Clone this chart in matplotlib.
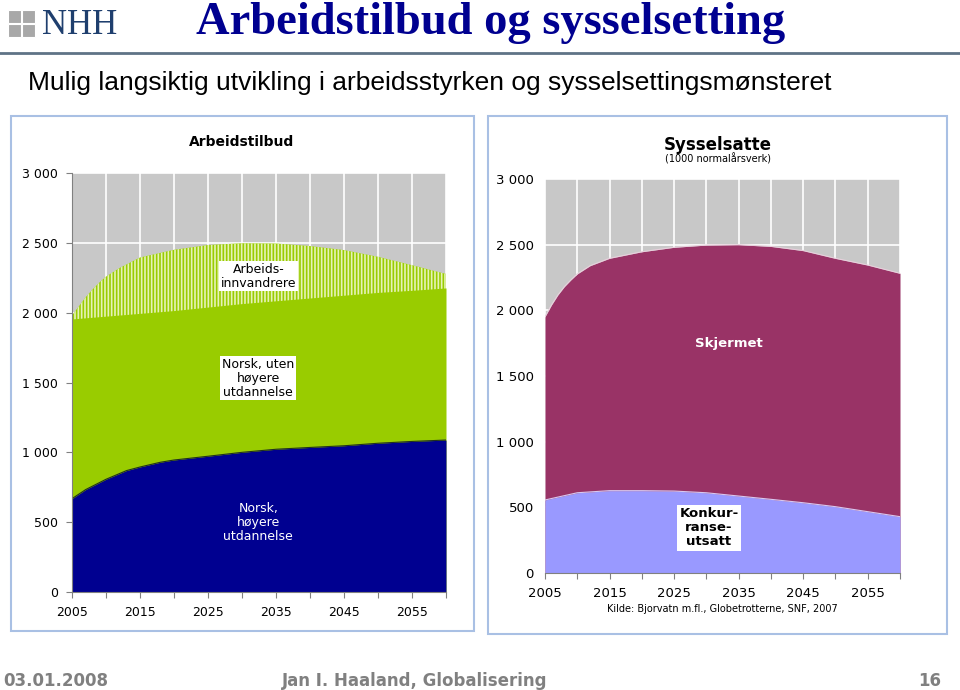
import numpy as np
import matplotlib
matplotlib.use("Agg")
import matplotlib.pyplot as plt
from matplotlib.patches import Rectangle
from matplotlib.ticker import FuncFormatter

# data (1000 persons / normalårsverk)
hoyere_years = [2005, 2007, 2010, 2013, 2015, 2018, 2020, 2025, 2030, 2035, 2040, 2045, 2050, 2055, 2060]
norsk_hoyere = [668, 733, 807, 869, 895, 929, 945, 972, 1000, 1022, 1035, 1047, 1065, 1078, 1088]

uten_years = [2005, 2010, 2015, 2020, 2025, 2030, 2035, 2040, 2045, 2050, 2055, 2060]
norsk_uten_cum = [1955, 1975, 1995, 2015, 2040, 2065, 2085, 2105, 2125, 2145, 2160, 2177]

innv_years = [2005, 2006, 2007, 2008, 2009, 2010, 2012, 2015, 2020, 2025, 2030, 2035,
              2040, 2045, 2050, 2055, 2060]
arbeidsinnv_cum = [1980, 2045, 2110, 2165, 2215, 2258, 2320, 2395, 2450, 2484, 2497, 2495,
                   2477, 2448, 2400, 2340, 2277]

konk_years = [2005, 2010, 2015, 2020, 2025, 2030, 2035, 2040, 2045, 2050, 2055, 2060]
konkurranse = [556, 611, 627, 627, 624, 611, 586, 561, 535, 505, 467, 429]

tot_years = [2005, 2006, 2007, 2008, 2009, 2010, 2012, 2015, 2020, 2025, 2030, 2035,
             2040, 2045, 2050, 2055, 2060]
sysselsatte_tot = [1951, 2040, 2117, 2180, 2231, 2277, 2340, 2396, 2446, 2480, 2497, 2500,
                   2487, 2455, 2396, 2345, 2282]

tick_years = list(range(2005, 2061, 5))
xtick_labels = ['2005', '', '2015', '', '2025', '', '2035', '', '2045', '', '2055', '']

W, H = 960, 690
fig = plt.figure(figsize=(9.6, 6.9), dpi=100)

def fig_box(x0, y0, x1, y1):
    # pixel box -> figure fraction [l, b, w, h]
    return [x0 / W, 1 - y1 / H, (x1 - x0) / W, (y1 - y0) / H]

def fx(x):
    return x / W

def fy(y):
    return 1 - y / H

fmt = FuncFormatter(lambda v, p: f"{int(v):,}".replace(",", " "))
gray_bg = '#C8C8C8'

def style_axes(ax, show_left):
    ax.set_facecolor(gray_bg)
    ax.set_xlim(2005, 2060)
    ax.set_ylim(0, 3000)
    ax.set_xticks(tick_years)
    ax.set_xticklabels(xtick_labels)
    ax.set_yticks(range(0, 3001, 500))
    ax.yaxis.set_major_formatter(fmt)
    ax.grid(True, color='white', lw=1.2)
    ax.set_axisbelow(True)
    for s in ['top', 'right']:
        ax.spines[s].set_visible(False)
    ax.spines['bottom'].set_color('#808080')
    ax.tick_params(axis='x', length=4, color='#808080', labelsize=9, pad=6)
    if show_left:
        ax.spines['left'].set_color('#808080')
        ax.tick_params(axis='y', length=4, color='#808080', labelsize=9, pad=6)
    else:
        ax.spines['left'].set_visible(False)
        ax.tick_params(axis='y', length=0, labelsize=9.5, pad=8)
        ax.tick_params(axis='x', labelsize=9.5)

# panel frames
for box in [(11, 116, 474, 631), (488, 116, 947, 634)]:
    x0, y0, x1, y1 = box
    fig.patches.append(Rectangle((fx(x0), fy(y1)), fx(x1 - x0), (y1 - y0) / H,
                                 transform=fig.transFigure, fill=False,
                                 edgecolor='#A9C0E4', lw=1.5))

# left chart: Arbeidstilbud
ax1 = fig.add_axes(fig_box(72, 173, 446, 592))
style_axes(ax1, True)
plt.rcParams['hatch.linewidth'] = 1.2
ax1.fill_between(innv_years, 0, arbeidsinnv_cum, facecolor='#99CC00',
                 edgecolor='#E6F2B8', hatch='|||||', lw=0)
ax1.fill_between(uten_years, 0, norsk_uten_cum, color='#99CC00', lw=0)
ax1.fill_between(hoyere_years, 0, norsk_hoyere, color='#000090', lw=0)
ax1.plot(hoyere_years, norsk_hoyere, color='#203020', lw=0.8)

box_style = dict(boxstyle='square,pad=0.15', fc='white', ec='none')
ax1.text(2032.4, 2262, 'Arbeids-\ninnvandrere', ha='center', va='center',
         fontsize=9, bbox=box_style, linespacing=1.1)
ax1.text(2032.4, 1532, 'Norsk, uten\nhøyere\nutdannelse', ha='center', va='center',
         fontsize=9, bbox=box_style, linespacing=1.1)
ax1.text(2032.4, 501, 'Norsk,\nhøyere\nutdannelse', ha='center', va='center',
         fontsize=9, color='white', linespacing=1.1)

# right chart: Sysselsatte
ax2 = fig.add_axes(fig_box(545, 179, 900, 573))
style_axes(ax2, False)
ax2.fill_between(tot_years, 0, sysselsatte_tot, color='#993366', lw=0)
ax2.fill_between(konk_years, 0, konkurranse, color='#9999FF', lw=0)
ax2.plot(konk_years, konkurranse, color='#D8C8F0', lw=0.8)
ax2.plot(tot_years, sysselsatte_tot, color='#E8D0DC', lw=0.8)
ax2.text(2033.5, 1751, 'Skjermet', ha='center', va='center', fontsize=9.5,
         color='white', fontweight='bold')
ax2.text(2030.4, 343, 'Konkur-\nranse-\nutsatt', ha='center', va='center',
         fontsize=9.5, fontweight='bold', bbox=dict(boxstyle='square,pad=0.2',
                                                   fc='white', ec='none'),
         linespacing=1.1)

# panel titles and source
fig.text(fx(242), fy(142), 'Arbeidstilbud', ha='center', va='center',
         fontsize=10, fontweight='bold')
fig.text(fx(718), fy(145), 'Sysselsatte', ha='center', va='center',
         fontsize=12, fontweight='bold')
fig.text(fx(718), fy(159), '(1000 normalårsverk)', ha='center', va='center',
         fontsize=7)
fig.text(fx(722), fy(609), 'Kilde: Bjorvatn m.fl., Globetrotterne, SNF, 2007',
         ha='center', va='center', fontsize=7)

# slide header
for (sx, sy) in [(8, 10), (22, 10), (8, 24), (22, 24)]:
    fig.patches.append(Rectangle((fx(sx), fy(sy + 13)), 13 / W, 13 / H,
                                 transform=fig.transFigure, fc='#A8A8A8', ec='white', lw=0.8))
fig.text(fx(42), fy(25), 'NHH', ha='left', va='center', fontsize=25,
         family='Liberation Serif', color='#1F3F6E')
fig.text(fx(196), fy(23), 'Arbeidstilbud og sysselsetting', ha='left', va='center',
         fontsize=33.5, family='Liberation Serif', fontweight='bold', color='#000090')
fig.add_artist(plt.Line2D([0, 1], [fy(53), fy(53)], transform=fig.transFigure,
                          color='#5F7386', lw=2))
fig.text(fx(28), fy(83), 'Mulig langsiktig utvikling i arbeidsstyrken og sysselsettingsmønsteret',
         ha='left', va='center', fontsize=19, family='Liberation Sans')

# footer
foot = dict(fontsize=12, fontweight='bold', color='#808080',
            family='DejaVu Sans', va='center')
fig.text(fx(3), fy(681), '03.01.2008', ha='left', **foot)
fig.text(fx(282), fy(681), 'Jan I. Haaland, Globalisering', ha='left', **foot)
fig.text(fx(941), fy(681), '16', ha='right', **foot)

fig.savefig('out.png', dpi=100)
